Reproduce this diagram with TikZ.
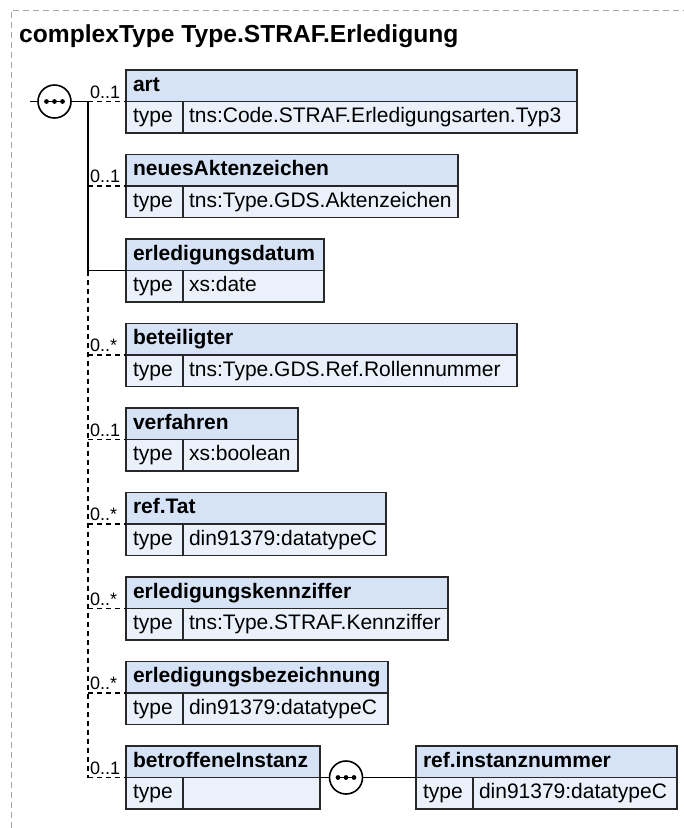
\documentclass[tikz,border=0pt]{standalone}
\usepackage{fontspec}
\setmainfont{Liberation Sans}
\usetikzlibrary{calc}
\definecolor{hdrfill}{RGB}{214,227,247}
\definecolor{typfill}{RGB}{234,241,251}
\definecolor{framegray}{RGB}{165,165,165}
\definecolor{bord}{RGB}{40,40,40}
\tikzset{
 box/.style={draw=bord, line width=1.6pt, rectangle, inner ysep=0pt, outer sep=0pt, minimum height=31.5pt, align=left, text height=15.5pt, text depth=4.5pt},
 hdr/.style={box, fill=hdrfill, inner xsep=7pt, font=\fontsize{21}{24}\selectfont\bfseries},
 tcell/.style={box, fill=typfill, inner xsep=7pt, text width=43pt, font=\fontsize{21}{24}\selectfont},
 vcell/.style={box, fill=typfill, inner xsep=6pt, font=\fontsize{21}{24}\selectfont},
 conn/.style={line width=1.6pt, black},
 opt/.style={conn, dash pattern=on 5pt off 4pt},
 lbl/.style={inner sep=0pt, font=\fontsize{18}{20}\selectfont},
 seq/.style={circle, draw=black, line width=1.6pt, fill=white, minimum size=33pt, inner sep=0pt, outer sep=0pt},
 frame/.style={draw=framegray, line width=1pt, dash pattern=on 6pt off 4pt},
}
% #1 id, #2 left, #3 top, #4 right, #5 header, #6 value
\newcommand{\xelem}[6]{%
 \pgfmathsetmacro{\hw}{#4-#2-14}%
 \pgfmathsetmacro{\vw}{#4-#2-57-12}%
 \node[hdr, text width=\hw pt, anchor=north west] (#1h) at (#2,#3) {#5};
 \node[tcell, anchor=north west] (#1t) at (#1h.south west) {type};
 \node[vcell, text width=\vw pt, anchor=north west] (#1v) at (#1t.north east) {#6};
}
\newcommand{\seqdots}[1]{%
 \draw[line width=1.2pt] ($(#1)+(-8,0)$) -- ($(#1)+(8,0)$);
 \fill ($(#1)+(-8,0)$) circle (2.4pt);
 \fill (#1) circle (2.4pt);
 \fill ($(#1)+(8,0)$) circle (2.4pt);
}
\begin{document}
\begin{tikzpicture}[x=1pt,y=-1pt]
\useasboundingbox (0,0) rectangle (684,828);
\draw[frame] (11,828) -- (11,10) -- (684,10);
\node[anchor=base west, inner sep=0pt, font=\fontsize{24.6}{28}\selectfont\bfseries] (title) at (19,42) {complexType Type.STRAF.Erledigung};

\xelem{art}{126}{70}{577}{art}{tns:Code.STRAF.Erledigungsarten.Typ3}
\xelem{neu}{126}{154.5}{458}{neuesAktenzeichen}{tns:Type.GDS.Aktenzeichen}
\xelem{dat}{126}{239}{324}{erledigungsdatum}{xs:date}
\xelem{bet}{126}{323.5}{517}{beteiligter}{tns:Type.GDS.Ref.Rollennummer}
\xelem{ver}{126}{408}{298}{verfahren}{xs:boolean}
\xelem{tat}{126}{492.5}{386}{ref.Tat}{din91379:datatypeC}
\xelem{ken}{126}{577}{448}{erledigungskennziffer}{tns:Type.STRAF.Kennziffer}
\xelem{bez}{126}{661.5}{388}{erledigungsbezeichnung}{din91379:datatypeC}
\xelem{ins}{126}{746}{320}{betroffeneInstanz}{}
\xelem{ref}{416}{746}{677}{ref.instanznummer}{din91379:datatypeC}

\coordinate (vx) at (88,0);
\foreach \e in {art,neu,dat,bet,ver,tat,ken,bez,ins}{
  \coordinate (c\e) at (\e h.south west -| vx);
}
% root sequence
\node[seq] (s1) at (54.5,101.5) {};
\seqdots{s1}
\coordinate (rin) at (30,101.5);
\draw[conn] (rin) -- (s1.west);
\draw[conn] (s1.east) -- (cart);
\draw[conn] (cart) -- (cdat);
\draw[opt] (cdat) -- (cins);
\draw[conn] (cdat) -- (dath.south west);
\foreach \e in {art,neu,bet,ver,tat,ken,bez,ins}{
  \draw[opt] (c\e) -- (\e h.south west);
}
\node[lbl, anchor=base west] (lart) at ($(cart)+(2,-3.5)$) {0..1};
\node[lbl, anchor=base west] (lneu) at ($(cneu)+(2,-3.5)$) {0..1};
\node[lbl, anchor=base west] (lbet) at ($(cbet)+(2,-3.5)$) {0..*};
\node[lbl, anchor=base west] (lver) at ($(cver)+(2,-3.5)$) {0..1};
\node[lbl, anchor=base west] (ltat) at ($(ctat)+(2,-3.5)$) {0..*};
\node[lbl, anchor=base west] (lken) at ($(cken)+(2,-3.5)$) {0..*};
\node[lbl, anchor=base west] (lbez) at ($(cbez)+(2,-3.5)$) {0..*};
\node[lbl, anchor=base west] (lins) at ($(cins)+(2,-3.5)$) {0..1};
% inner sequence
\node[seq] (s2) at (346,777.5) {};
\seqdots{s2}
\draw[conn] (insh.south east) -- (s2.west);
\draw[conn] (s2.east) -- (refh.south west);
\end{tikzpicture}
\end{document}
